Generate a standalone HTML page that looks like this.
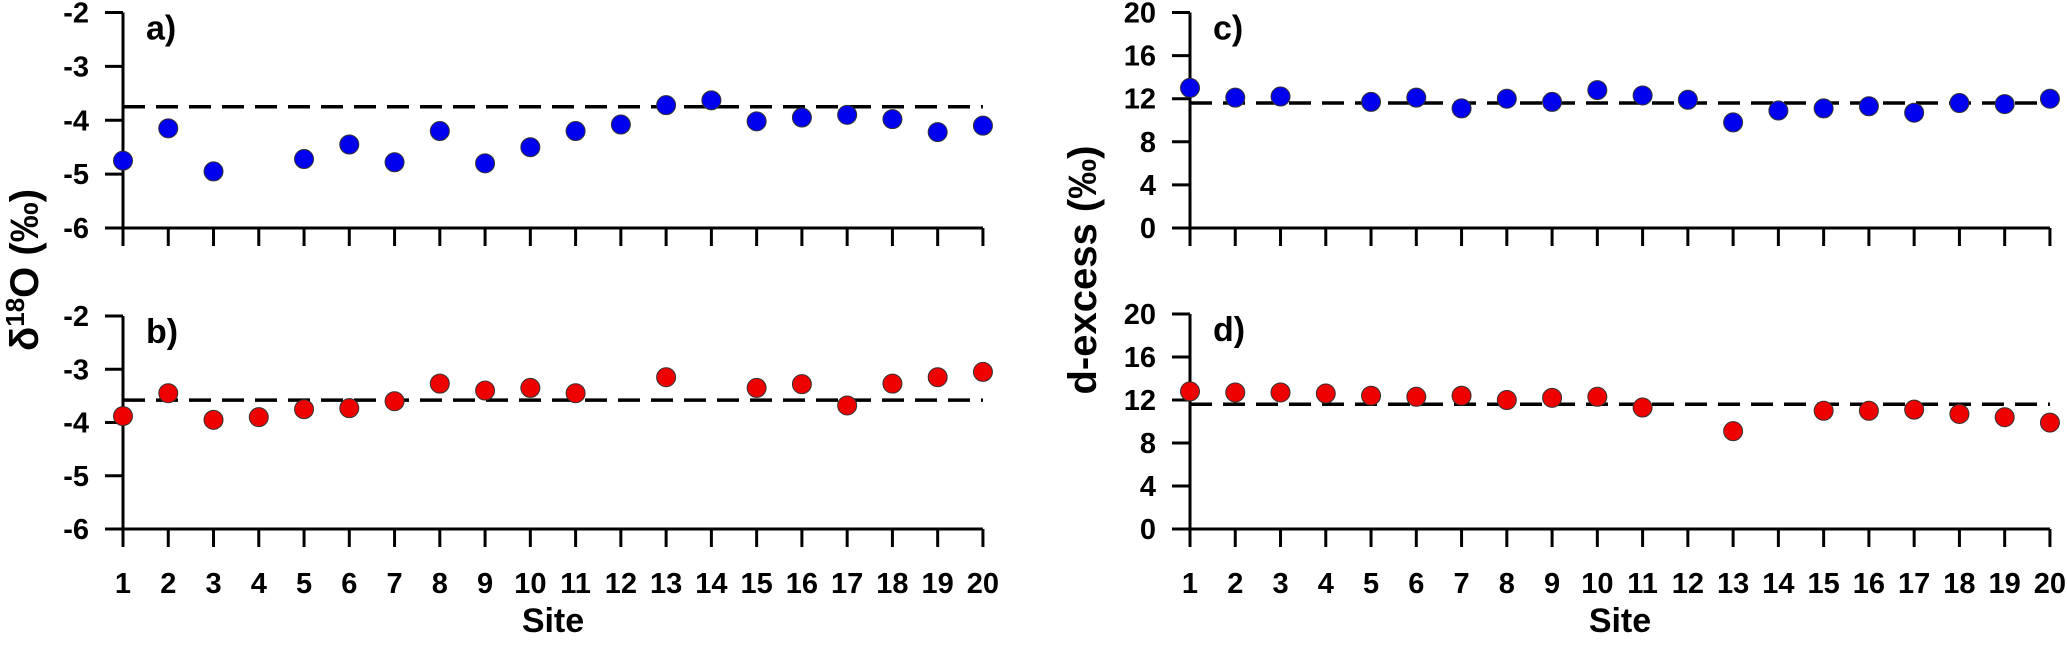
<!DOCTYPE html>
<html><head><meta charset="utf-8"><style>
body{margin:0;background:#fff;}
svg text{font-family:"Liberation Sans",Arial,sans-serif;font-weight:bold;fill:#000;}
</style></head><body>
<svg id="chart" width="2067" height="646" xmlns="http://www.w3.org/2000/svg"></svg>
<script>
const sites=[1,2,3,4,5,6,7,8,9,10,11,12,13,14,15,16,17,18,19,20];
const d18oA=[-4.75,-4.15,-4.95,null,-4.72,-4.45,-4.78,-4.2,-4.8,-4.5,-4.2,-4.08,-3.72,-3.63,-4.02,-3.95,-3.9,-3.98,-4.22,-4.1];
const d18oB=[-3.88,-3.45,-3.95,-3.9,-3.75,-3.73,-3.6,-3.27,-3.4,-3.35,-3.45,null,-3.15,null,-3.35,-3.28,-3.68,-3.27,-3.15,-3.05];
const dexC=[13,12.1,12.2,null,11.7,12.1,11.1,12,11.7,12.8,12.3,11.9,9.8,10.9,11.1,11.3,10.7,11.6,11.5,12];
const dexD=[12.8,12.7,12.7,12.6,12.4,12.3,12.4,12,12.2,12.3,11.3,null,9.1,null,11,11,11.1,10.7,10.4,9.9];
const meanA=-3.75, meanB=-3.58, meanC=11.6, meanD=11.6;
const d18oTicks=[-2,-3,-4,-5,-6];
const dexTicks=[0,4,8,12,16,20];

const NS="http://www.w3.org/2000/svg";
const svg=document.getElementById('chart');
function mk(tag,attrs,parent){const e=document.createElementNS(NS,tag);for(const k in attrs)e.setAttribute(k,attrs[k]);(parent||svg).appendChild(e);return e;}

function panel(name,x0,yTop,yBot,ymin,ymax,ticks,vals,mean,color,label,showX){
  const g=mk('g',{});
  
  
  const x1=x0+19*45.26;
  const xs=s=>x0+(s-1)*(x1-x0)/19;
  const ys=v=>yBot-(v-ymin)/(ymax-ymin)*(yBot-yTop);
  const ya=mk('line',{x1:x0,y1:yTop,x2:x0,y2:yBot,stroke:'#000','stroke-width':3},g);
  
  
  const xa=mk('line',{x1:x0-18,y1:yBot,x2:x1,y2:yBot,stroke:'#000','stroke-width':3},g);
  
  
  ticks.forEach(t=>{
    mk('line',{x1:x0-18,y1:ys(t),x2:x0,y2:ys(t),stroke:'#000','stroke-width':3},g);
    const tx=mk('text',{x:x0-34,y:ys(t)+10,'text-anchor':'end','font-size':29},g);
    tx.textContent=t;
    
    
  });
  sites.forEach(s=>{
    mk('line',{x1:xs(s),y1:yBot,x2:xs(s),y2:yBot+18,stroke:'#000','stroke-width':3},g);
    if(showX){
      const tx=mk('text',{x:xs(s),y:yBot+64,'text-anchor':'middle','font-size':29},g);
      tx.textContent=s;
      
      
    }
  });
  const ml=mk('line',{x1:x0,y1:ys(mean),x2:x1,y2:ys(mean),stroke:'#000','stroke-width':3.5,'stroke-dasharray':'22 11'},g);
  
  
  vals.forEach((v,i)=>{
    if(v===null)return;
    const c=mk('circle',{cx:xs(sites[i]),cy:ys(v),r:9.5,fill:color,stroke:'#333','stroke-width':1},g);
    
    
  });
  const lb=mk('text',{x:x0+23,y:yTop+27,'font-size':34},g);
  lb.textContent=label;
  
  
}
panel('a',123,12.5,228,-6,-2,d18oTicks,d18oA,meanA,'#0000ee','a)',false);
panel('b',123,316,529,-6,-2,d18oTicks,d18oB,meanB,'#ee0000','b)',true);
panel('c',1190,12.5,228,0,20,dexTicks,dexC,meanC,'#0000ee','c)',false);
panel('d',1190,314,529,0,20,dexTicks,dexD,meanD,'#ee0000','d)',true);

function title(txt,x,y,rot,name,size){
  const t=mk('text',{x:x,y:y,'text-anchor':'middle','font-size':size,transform:rot?`rotate(-90 ${x} ${y})`:''});
  t.innerHTML=txt;
  
  
}
title('δ<tspan font-size="26" dy="-14">18</tspan><tspan dy="14">O (‰)</tspan>',38,270,true,'y-axis-title-left',40);
title('d-excess (‰)',1096,270,true,'y-axis-title-right',40);
title('Site',553,632,false,'x-axis-title-left',34);
title('Site',1620,632,false,'x-axis-title-right',34);
</script>
</body></html>
